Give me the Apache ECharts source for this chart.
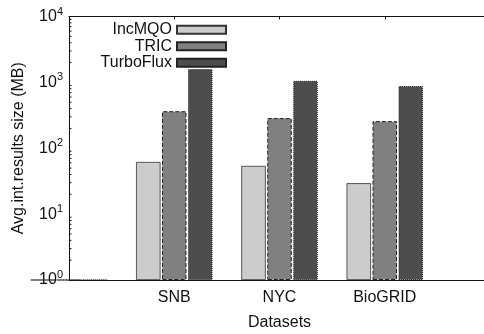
<!DOCTYPE html>
<html>
<head>
<meta charset="utf-8">
<script src="https://cdn.jsdelivr.net/npm/echarts@6/dist/echarts.min.js"></script>
<style>
  html, body { margin: 0; padding: 0; background: #fff; }
  #chart { width: 484px; height: 334px; }
</style>
</head>
<body>
<div id="chart"></div>
<script>
// categories: gnuplot leaves an empty cluster at the left and right edge
var categories = ["", "SNB", "NYC", "BioGRID", ""];
// the left empty cluster sits on the baseline (10^0) as flat bars
var incmqo    = [1, 62, 54, 29.5, "-"];
var tric      = [1, 365, 287, 258, "-"];
var turboflux = [1, 1590, 1055, 880, "-"];
var yTicks = [1, 10, 100, 1000, 10000];
var minorMantissa = [2, 3, 4, 5, 6, 7, 8, 9];

var FONT = "Liberation Sans, Arial, sans-serif";
var INK = "#111";

// log minor ticks (2..9 per decade), placed through the y scale
var minorTicks = [];
yTicks.slice(0, -1).forEach(function (d) {
  minorMantissa.forEach(function (m) { minorTicks.push([0, m * d]); });
});

var chart = echarts.init(document.getElementById("chart"), null, { renderer: "canvas" });

chart.setOption({
  animation: false,
  grid: { left: 69, top: 16.5, bottom: 54, right: -6, outerBoundsMode: "none" },
  legend: {
    data: ["IncMQO", "TRIC", "TurboFlux"],
    orient: "vertical",
    align: "right",
    right: 257,
    top: 21.5,
    padding: 0,
    itemGap: 0,
    itemWidth: 49,
    itemHeight: 8,
    icon: "rect",
    textStyle: { color: INK, fontFamily: FONT, fontSize: 16, lineHeight: 16.5 }
  },
  xAxis: [
    {
      type: "category",
      data: categories,
      boundaryGap: false,
      position: "bottom",
      axisLine: { lineStyle: { color: INK } },
      axisTick: { inside: true, length: 3 },
      axisLabel: { color: INK, fontFamily: FONT, fontSize: 16, margin: 10 },
      name: "Datasets",
      nameLocation: "middle",
      nameGap: 35,
      nameTextStyle: { color: INK, fontFamily: FONT, fontSize: 16 }
    },
    {
      type: "category",
      data: categories,
      boundaryGap: false,
      position: "top",
      axisLine: { lineStyle: { color: INK } },
      axisTick: { inside: true, length: 3 },
      axisLabel: { show: false }
    }
  ],
  yAxis: {
    type: "log",
    min: 1,
    max: 10000,
    axisLine: { show: true, lineStyle: { color: INK } },
    axisTick: { inside: true, length: 5 },
    splitLine: { show: false },
    axisLabel: {
      color: INK,
      fontFamily: FONT,
      fontSize: 16,
      margin: 6,
      formatter: function (v) {
        return "10{s|" + Math.round(Math.log10(v)) + "}";
      },
      rich: {
        s: { fontSize: 11, fontFamily: FONT, color: INK, padding: [0, 0, 10, 0] }
      }
    },
    name: "Avg.int.results size (MB)",
    nameLocation: "middle",
    nameRotate: 90,
    nameGap: 42,
    nameTextStyle: { color: INK, fontFamily: FONT, fontSize: 16 }
  },
  series: [
    {
      name: "IncMQO",
      type: "bar",
      data: incmqo,
      barWidth: 24.5,
      barGap: "6%",
      itemStyle: { color: "#cccccc", borderColor: "#333", borderWidth: 0.8 }
    },
    {
      name: "TRIC",
      type: "bar",
      data: tric,
      barWidth: 24.5,
      barGap: "6%",
      itemStyle: { color: "#808080", borderColor: "#222", borderWidth: 1, borderType: "dashed" }
    },
    {
      name: "TurboFlux",
      type: "bar",
      data: turboflux,
      barWidth: 24.5,
      barGap: "6%",
      itemStyle: { color: "#4d4d4d", borderColor: "#222", borderWidth: 1, borderType: "dotted" }
    },
    {
      type: "custom",
      silent: true,
      z: 5,
      data: minorTicks,
      encode: { x: 0, y: 1 },
      renderItem: function (params, api) {
        var p = api.coord([api.value(0), api.value(1)]);
        return {
          type: "line",
          shape: { x1: p[0], y1: p[1], x2: p[0] + 2.5, y2: p[1] },
          style: { stroke: INK, lineWidth: 1 }
        };
      }
    }
  ]
});

// the reference has no right border; hide any stray full-height vertical
// stroke that ends up near the right edge of the canvas
(function hideStrayRightLine() {
  var zr = chart.getZr();
  var list = zr.storage.getDisplayList(true);
  var hidden = 0;
  list.forEach(function (el) {
    var r = el.getBoundingRect().clone();
    if (el.transform) r.applyTransform(el.transform);
    if (r.width < 4 && r.height > 100 && r.x > 430) {
      el.ignore = true;
      hidden++;
    }
  });
  if (hidden) zr.refresh();
})();
</script>
</body>
</html>
